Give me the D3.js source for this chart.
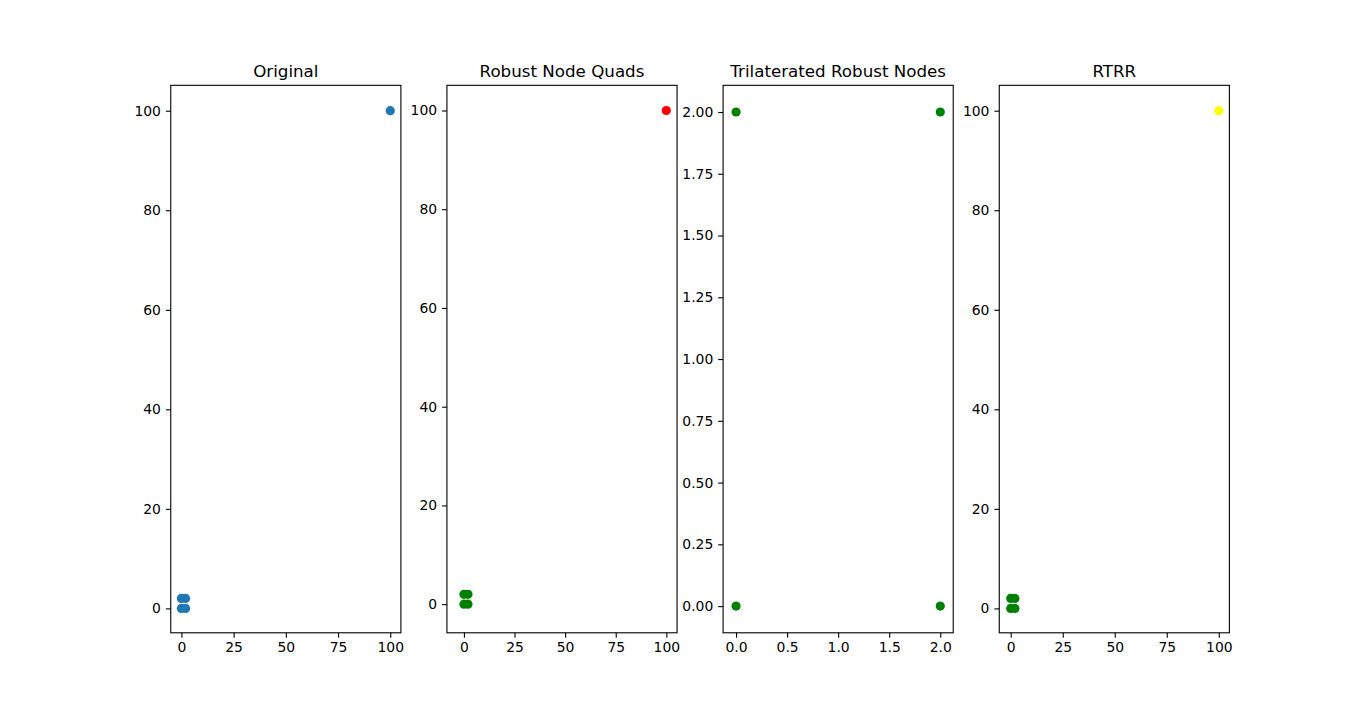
<!DOCTYPE html>
<html>
<head>
<meta charset="utf-8">
<script src="https://cdn.jsdelivr.net/npm/d3@7"></script>
<style>
  body { margin: 0; background: #fff; }
  text { font-family: "DejaVu Sans", sans-serif; fill: #000; }
</style>
</head>
<body>
<svg id="fig" width="1366" height="711"></svg>
<script>
// panel titles
var titles = ["Original", "Robust Node Quads", "Trilaterated Robust Nodes", "RTRR"];

// points of each panel: [x, y]
var originalPts = [[0, 0], [0, 2], [2, 0], [2, 2], [100, 100]];
var quadPts = [[0, 0], [0, 2], [2, 0], [2, 2]];
var quadOutlier = [[100, 100]];
var trilatPts = [[0, 0], [0, 2], [2, 0], [2, 2]];
var rtrrPts = [[0, 0], [0, 2], [2, 0], [2, 2]];
var rtrrOutlier = [[100, 100]];

// axis limits
var xLimits = [[-5.1, 105.1], [-8.4, 105.3], [-0.127, 2.127], [-5.5, 105.1]];
var yLimits = [[-4.9, 105.1], [-5.8, 105.1], [-0.108, 2.108], [-4.9, 105.1]];

// tick values
var bigXTicks = [0, 25, 50, 75, 100];
var bigYTicks = [0, 20, 40, 60, 80, 100];
var smallXTicks = [0, 0.5, 1, 1.5, 2];
var smallYTicks = [0, 0.25, 0.5, 0.75, 1, 1.25, 1.5, 1.75, 2];

var panels = [
  {series: [{pts: originalPts, color: "#1f77b4"}], xt: bigXTicks, yt: bigYTicks, xf: d3.format("d"), yf: d3.format("d")},
  {series: [{pts: quadPts, color: "green"}, {pts: quadOutlier, color: "red"}], xt: bigXTicks, yt: bigYTicks, xf: d3.format("d"), yf: d3.format("d")},
  {series: [{pts: trilatPts, color: "green"}], xt: smallXTicks, yt: smallYTicks, xf: d3.format(".1f"), yf: d3.format(".2f")},
  {series: [{pts: rtrrPts, color: "green"}, {pts: rtrrOutlier, color: "yellow"}], xt: bigXTicks, yt: bigYTicks, xf: d3.format("d"), yf: d3.format("d")}
];

var svg = d3.select("#fig");
var figW = 1366, figH = 711;
var padLeft = 0.125 * figW, padRight = 0.9 * figW,
    padTop = 0.12 * figH, padBottom = 0.89 * figH;
var wspace = 0.2;
var axW = (padRight - padLeft) / (4 + 3 * wspace);
var axH = padBottom - padTop;
var r = 4.6;

panels.forEach(function(p, i) {
  var x0 = padLeft + i * axW * (1 + wspace);
  var g = svg.append("g").attr("transform", "translate(" + x0 + "," + padTop + ")");

  var x = d3.scaleLinear().domain(xLimits[i]).range([0, axW]);
  var y = d3.scaleLinear().domain(yLimits[i]).range([axH, 0]);

  var xAxis = d3.axisBottom(x).tickValues(p.xt).tickFormat(p.xf).tickSize(4.9).tickPadding(4.9);
  var yAxis = d3.axisLeft(y).tickValues(p.yt).tickFormat(p.yf).tickSize(4.9).tickPadding(4.9);

  var gx = g.append("g").attr("transform", "translate(0," + axH + ")").call(xAxis);
  var gy = g.append("g").call(yAxis);
  [gx, gy].forEach(function(a) {
    a.select(".domain").remove();
    a.selectAll("line").attr("stroke", "#000").attr("stroke-width", 1.1);
    a.selectAll("text").style("font-size", "13.9px").style("font-family", "DejaVu Sans");
  });

  p.series.forEach(function(s) {
    g.selectAll(null).data(s.pts).enter().append("circle")
      .attr("cx", function(d) { return x(d[0]); })
      .attr("cy", function(d) { return y(d[1]); })
      .attr("r", r)
      .attr("fill", s.color);
  });

  g.append("rect")
    .attr("width", axW).attr("height", axH)
    .attr("fill", "none").attr("stroke", "#000").attr("stroke-width", 1.1);

  g.append("text")
    .attr("x", axW / 2).attr("y", -8.3)
    .attr("text-anchor", "middle")
    .style("font-size", "16.7px")
    .text(titles[i]);
});
</script>
</body>
</html>
